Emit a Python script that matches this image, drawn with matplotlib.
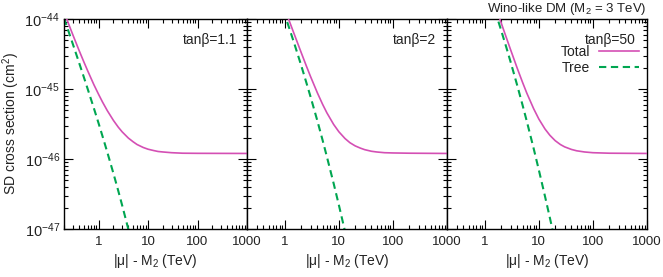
import numpy as np
import matplotlib
matplotlib.use('Agg')
import matplotlib.pyplot as plt
from matplotlib.ticker import LogLocator, NullFormatter

plt.rcParams['font.family'] = ['Liberation Sans', 'DejaVu Sans']
plt.rcParams['mathtext.fontset'] = 'custom'
plt.rcParams['mathtext.rm'] = 'Liberation Sans'
plt.rcParams['mathtext.it'] = 'Liberation Sans:italic'
plt.rcParams['mathtext.bf'] = 'Liberation Sans:bold'

# |mu| - M2 (TeV) and SD cross section (cm^2)
# tan(beta) = 1.1
x_tree_tb1 = [0.2, 0.25, 0.3, 0.4, 0.5, 0.6, 0.8, 1, 1.2, 1.5, 2, 2.5, 3, 4, 5]
tree_tb1 = [1.03e-44, 6.49e-45, 4.44e-45, 2.42e-45, 1.50e-45, 1.01e-45, 5.36e-46,
            3.24e-46, 2.12e-46, 1.25e-46, 6.19e-47, 3.51e-47, 2.17e-47, 9.91e-48, 5.24e-48]
x_total_tb1 = [0.2, 0.25, 0.3, 0.4, 0.5, 0.6, 0.8, 1, 1.2, 1.5, 2, 2.5, 3, 4, 5, 6, 8,
               10, 13, 16, 20, 30, 50, 100, 1000]
total_tb1 = [1.265e-44, 8.37e-45, 6.01e-45, 3.61e-45, 2.47e-45, 1.83e-45, 1.16e-45,
             8.39e-46, 6.52e-46, 4.91e-46, 3.55e-46, 2.85e-46, 2.44e-46, 1.99e-46,
             1.76e-46, 1.61e-46, 1.46e-46, 1.38e-46, 1.32e-46, 1.28e-46, 1.26e-46,
             1.23e-46, 1.21e-46, 1.205e-46, 1.20e-46]

# tan(beta) = 2
x_tree_tb2 = [0.8, 1, 1.2, 1.5, 2, 2.5, 3, 4, 5, 6, 8, 10, 13]
tree_tb2 = [1.90e-44, 1.15e-44, 7.53e-45, 4.45e-45, 2.20e-45, 1.24e-45, 7.71e-46,
            3.52e-46, 1.86e-46, 1.08e-46, 4.49e-47, 2.20e-47, 9.23e-48]
x_total_tb2 = [0.8, 1, 1.2, 1.5, 2, 2.5, 3, 4, 5, 6, 8, 10, 13, 16, 20, 25, 30, 40,
               50, 70, 100, 200, 1000]
total_tb2 = [2.21e-44, 1.40e-44, 9.55e-45, 6.03e-45, 3.35e-45, 2.14e-45, 1.50e-45,
             8.83e-46, 6.05e-46, 4.57e-46, 3.12e-46, 2.45e-46, 1.96e-46, 1.71e-46,
             1.54e-46, 1.43e-46, 1.36e-46, 1.29e-46, 1.26e-46, 1.23e-46, 1.22e-46,
             1.21e-46, 1.20e-46]

# tan(beta) = 50
x_tree_tb3 = [1.2, 1.5, 2, 2.5, 3, 4, 5, 6, 8, 10, 13, 16, 20]
tree_tb3 = [2.38e-44, 1.41e-44, 6.95e-45, 3.94e-45, 2.44e-45, 1.11e-45, 5.87e-46,
            3.43e-46, 1.42e-46, 6.95e-47, 2.92e-47, 1.44e-47, 6.58e-48]
x_total_tb3 = [1.2, 1.5, 2, 2.5, 3, 4, 5, 6, 8, 10, 13, 16, 20, 25, 30, 40, 50, 70,
               100, 200, 1000]
total_tb3 = [2.74e-44, 1.68e-44, 8.89e-45, 5.43e-45, 3.64e-45, 1.96e-45, 1.24e-45,
             8.69e-46, 5.24e-46, 3.72e-46, 2.68e-46, 2.18e-46, 1.83e-46, 1.61e-46,
             1.49e-46, 1.37e-46, 1.31e-46, 1.26e-46, 1.23e-46, 1.21e-46, 1.20e-46]

tanb_labels = ['tan\u03b2=1.1', 'tan\u03b2=2', 'tan\u03b2=50']
x_ticks = [1, 10, 100, 1000]
x_ticklabels = ['1', '10', '100', '1000']
y_ticks = [1e-47, 1e-46, 1e-45, 1e-44]
y_ticklabels = [r'$10^{-47}$', r'$10^{-46}$', r'$10^{-45}$', r'$10^{-44}$']

panels = [
    (x_tree_tb1, tree_tb1, x_total_tb1, total_tb1),
    (x_tree_tb2, tree_tb2, x_total_tb2, total_tb2),
    (x_tree_tb3, tree_tb3, x_total_tb3, total_tb3),
]

TOTAL_COLOR = '#d44fb4'
TREE_COLOR = '#00a651'
TEXT_COLOR = '#222222'

W, H = 663, 277
fig = plt.figure(figsize=(W / 100, H / 100), dpi=100)

# panel boxes in pixels: (left, right)
boxes = [(64, 247), (247, 447), (447, 647)]
top_px, bot_px = 19, 229
# right edge of the tan(beta) label in each panel, pixels
tanb_right = [237, 436, 636]

axes = []
for i, (l, r) in enumerate(boxes):
    ax = fig.add_axes([l / W, 1 - bot_px / H, (r - l) / W, (bot_px - top_px) / H])
    xt, yt, xa, ya = panels[i]
    ax.plot(xa, ya, color=TOTAL_COLOR, lw=1.2, label='Total', zorder=3)
    ax.plot(xt, yt, color=TREE_COLOR, lw=1.5, ls=(0, (3.5, 2.2)), label='Tree', zorder=2)

    ax.set_xscale('log')
    ax.set_yscale('log')
    ax.set_xlim(0.2, 1000)
    ax.set_ylim(1e-47, 1e-44)

    ax.set_xticks(x_ticks, labels=x_ticklabels)
    ax.xaxis.set_minor_locator(LogLocator(base=10, subs=np.arange(2, 10), numticks=50))
    ax.xaxis.set_minor_formatter(NullFormatter())
    if i == 0:
        ax.set_yticks(y_ticks, labels=y_ticklabels)
    else:
        ax.set_yticks(y_ticks, labels=[''] * len(y_ticks))
    ax.yaxis.set_minor_locator(LogLocator(base=10, subs=np.arange(2, 10), numticks=50))
    ax.yaxis.set_minor_formatter(NullFormatter())

    ax.tick_params(which='both', direction='in', top=True, right=True,
                   color='black', width=0.8, labelcolor=TEXT_COLOR)
    ax.tick_params(which='major', length=6.5)
    ax.tick_params(which='minor', length=3)
    ax.tick_params(axis='x', pad=5, labelsize=9.5)
    ax.tick_params(axis='y', pad=3, labelsize=10.5)
    for s in ax.spines.values():
        s.set_linewidth(1.0)

    ax.set_xlabel('|\u03bc| - M$_2$ (TeV)', fontsize=10, color=TEXT_COLOR, labelpad=3)
    fig.text(tanb_right[i] / W, 1 - 40 / H, tanb_labels[i], ha='right', va='center',
             fontsize=10, color=TEXT_COLOR)
    axes.append(ax)

# legend in the right panel: label first, then sample line
leg = axes[2].legend(loc='upper right', bbox_to_anchor=(0.96, 0.875), markerfirst=False,
                     frameon=False, fontsize=10, handlelength=2.9, handletextpad=0.6,
                     labelspacing=0.1, borderaxespad=0, borderpad=0)
for t in leg.get_texts():
    t.set_color(TEXT_COLOR)

axes[2].text(1.0, 1.035, 'Wino-like DM (M$_2$ = 3 TeV)', transform=axes[2].transAxes,
             ha='right', va='baseline', fontsize=9.5, color=TEXT_COLOR)

fig.text(11 / W, 1 - 124 / H, 'SD cross section (cm$^2$)', rotation=90, ha='center',
         va='center', fontsize=10, color=TEXT_COLOR)

fig.savefig('out.png', dpi=100)
